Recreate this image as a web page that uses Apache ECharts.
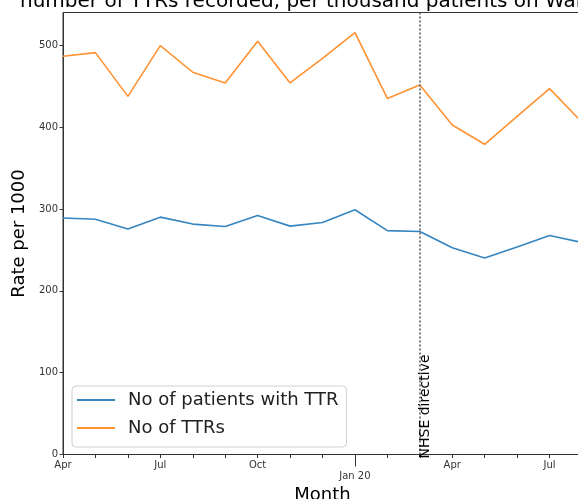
<!DOCTYPE html>
<html>
<head>
<meta charset="utf-8">
<script src="https://cdn.jsdelivr.net/npm/echarts@6/dist/echarts.min.js"></script>
<style>
  html, body { margin: 0; padding: 0; background: #fff; }
  #chart { width: 578px; height: 499px; }
</style>
</head>
<body>
<div id="chart"></div>
<script>
// Monthly rates per 1000 patients, Apr 2019 – Aug 2020
const months = ['Apr 19','May 19','Jun 19','Jul 19','Aug 19','Sep 19','Oct 19','Nov 19','Dec 19',
                'Jan 20','Feb 20','Mar 20','Apr 20','May 20','Jun 20','Jul 20','Aug 20'];
const monthLabels = ['Apr','','','Jul','','','Oct','','','Jan 20','','','Apr','','','Jul',''];
const patientsWithTTR = [289, 287.5, 275.5, 290, 281.5, 278.5, 292, 279, 283.5, 299, 273.5, 272.5, 252.5, 240, 253.5, 267.5, 259];
const numberOfTTRs = [486.5, 491, 437.5, 499.5, 467, 454, 505, 454, 484, 515.5, 435, 451.5, 402.5, 379, 413, 447, 406];
const yTicks = [0, 100, 200, 300, 400, 500];
const directiveMonth = 'Mar 20';

const FONT = 'DejaVu Sans';
const chart = echarts.init(document.getElementById('chart'));

chart.setOption({
  animation: false,
  textStyle: { fontFamily: FONT },
  title: {
    text: 'number of TTRs recorded, per thousand patients on Warfarin',
    left: 15,
    top: -13,
    textStyle: { fontFamily: FONT, fontSize: 20, fontWeight: 'normal', color: '#000' }
  },
  grid: {
    left: 63, top: 12.5, right: -4, bottom: 44.5,
    outerBoundsMode: 'none',
    containLabel: false,
    show: true, borderColor: '#333', borderWidth: 1, backgroundColor: 'transparent'
  },
  legend: {
    orient: 'vertical',
    left: 72,
    top: 386,
    padding: [5, 8, 10, 5],
    itemGap: 10,
    itemWidth: 38,
    itemHeight: 18,
    icon: 'path://M0,9L38,9L38,11L0,11Z',
    borderColor: '#d0d0d0',
    borderWidth: 1,
    borderRadius: 4,
    backgroundColor: 'rgba(255,255,255,0.85)',
    textStyle: { fontFamily: FONT, fontSize: 18, color: '#222', padding: [0, 0, 0, 8] },
    data: ['No of patients with TTR', 'No of TTRs']
  },
  xAxis: [{
    type: 'category',
    data: months,
    boundaryGap: false,
    name: 'Month',
    nameLocation: 'middle',
    nameGap: 32,
    nameTextStyle: { fontFamily: FONT, fontSize: 18, color: '#000' },
    axisLine: { show: true, lineStyle: { color: '#333', width: 1 } },
    axisTick: { show: true, interval: 0, length: 3.5, lineStyle: { color: '#333' } },
    axisLabel: {
      interval: 0,
      margin: 6,
      fontSize: 10,
      color: '#333',
      formatter: (v, i) => (monthLabels[i] === 'Jan 20' ? '' : monthLabels[i])
    },
    splitLine: { show: false }
  }, {
    // Year-start marker: longer tick and a lowered label
    type: 'category',
    data: months,
    boundaryGap: false,
    position: 'bottom',
    axisLine: { show: false },
    axisTick: {
      show: true,
      interval: (i) => monthLabels[i] === 'Jan 20',
      length: 12,
      lineStyle: { color: '#333' }
    },
    axisLabel: {
      interval: (i) => monthLabels[i] === 'Jan 20',
      margin: 17,
      fontSize: 10,
      color: '#333'
    },
    splitLine: { show: false }
  }],
  yAxis: {
    type: 'value',
    min: 0,
    max: 540,
    interval: 100,
    name: 'Rate per 1000',
    nameLocation: 'middle',
    nameGap: 29,
    nameTextStyle: { fontFamily: FONT, fontSize: 18, color: '#000' },
    axisLine: { show: true, lineStyle: { color: '#333', width: 1 } },
    axisTick: { show: true, length: 3.5, customValues: yTicks, lineStyle: { color: '#333' } },
    axisLabel: { fontSize: 10, color: '#333', margin: 5, customValues: yTicks },
    splitLine: { show: false }
  },
  series: [{
    name: 'No of patients with TTR',
    type: 'line',
    data: patientsWithTTR,
    symbol: 'none',
    lineStyle: { color: '#3585c0', width: 1.6 },
    itemStyle: { color: '#3585c0' },
    z: 3,
    markLine: {
      silent: true,
      symbol: 'none',
      lineStyle: { color: '#555', type: [2, 2], width: 1.5 },
      label: {
        show: true,
        formatter: 'NHSE directive',
        position: 'insideStartBottom',
        distance: [-4, -1],
        fontFamily: FONT,
        fontSize: 14,
        color: '#000'
      },
      data: [{ xAxis: directiveMonth }]
    }
  }, {
    name: 'No of TTRs',
    type: 'line',
    data: numberOfTTRs,
    symbol: 'none',
    lineStyle: { color: '#ff9233', width: 1.6 },
    itemStyle: { color: '#ff9233' },
    z: 3
  }]
});
</script>
</body>
</html>
